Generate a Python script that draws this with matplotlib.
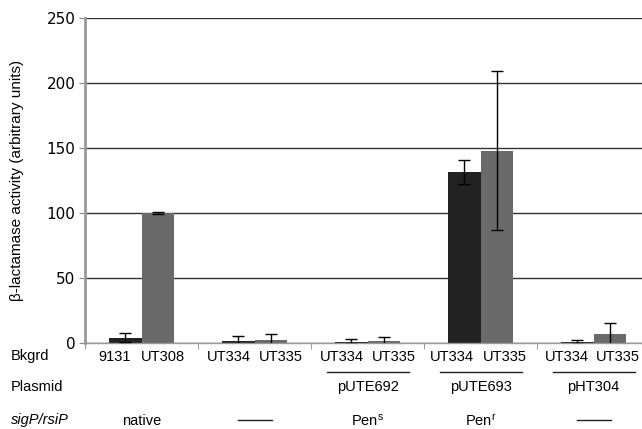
import matplotlib
matplotlib.use("Agg")
import matplotlib.pyplot as plt
import numpy as np

plt.rcParams["mathtext.fontset"] = "custom"
plt.rcParams["mathtext.rm"] = "Liberation Sans"
plt.rcParams["mathtext.it"] = "Liberation Sans:italic"

# Data
bkgrd_left = ["9131", "UT334", "UT334", "UT334", "UT334"]
bkgrd_right = ["UT308", "UT335", "UT335", "UT335", "UT335"]
dark_vals = [4.0, 1.5, 1.0, 131.5, 1.0]
dark_err = [3.5, 4.0, 2.0, 9.0, 1.5]
gray_vals = [100.0, 2.5, 1.5, 148.0, 7.0]
gray_err = [0.5, 4.5, 3.0, 61.0, 8.5]
plasmids = ["", "", "pUTE692", "pUTE693", "pHT304"]
sigp = ["native", "dash", "Pen$^{\\mathrm{s}}$", "Pen$^{\\mathrm{r}}$", "dash"]
yticks = [0, 50, 100, 150, 200, 250]

W, H = 642, 429
fig = plt.figure(figsize=(W / 100, H / 100), dpi=100)
ax_l, ax_r, ax_t, ax_b = 85, 650, 18, 343
ax = fig.add_axes([ax_l / W, 1 - ax_b / H, (ax_r - ax_l) / W, (ax_b - ax_t) / H])

ng = len(dark_vals)
bw = 0.292
centers = np.arange(ng) + 0.5
xd = centers - bw / 2
xg = centers + bw / 2

ax.set_axisbelow(True)
ax.yaxis.grid(True, color="#333333", lw=1.0)
ax.bar(xd, dark_vals, width=bw, color="#222222", zorder=2)
ax.bar(xg, gray_vals, width=bw, color="#6a6a6a", zorder=2)
ax.errorbar(xd, dark_vals, yerr=dark_err, fmt="none", ecolor="black", elinewidth=1, capsize=4, capthick=1, zorder=3)
ax.errorbar(xg, gray_vals, yerr=gray_err, fmt="none", ecolor="black", elinewidth=1, capsize=4, capthick=1, zorder=3)

ax.set_xlim(0, ng)
ax.set_ylim(0, 250)
ax.set_yticks(yticks)
ax.set_yticklabels([str(v) for v in yticks], fontsize=11, family="DejaVu Sans")
ax.tick_params(axis="y", length=4, color="#888888", pad=3)

# label positions (offset wider than bars, as in the reference)
lab_left = centers - np.array([0.235, 0.23, 0.23, 0.25, 0.24])
lab_right = centers + np.array([0.19, 0.23, 0.23, 0.22, 0.22])
xpos = np.concatenate([lab_left, lab_right])
xlabs = bkgrd_left + bkgrd_right
ax.set_xticks(xpos)
ax.set_xticklabels(xlabs, fontsize=10.5, family="Liberation Sans")
ax.tick_params(axis="x", length=0, pad=5)
ax.set_xticks(np.arange(ng + 1), minor=True)
ax.tick_params(axis="x", which="minor", length=4, color="#888888")

for s in ["top", "right"]:
    ax.spines[s].set_visible(False)
ax.spines["left"].set_color("#999999")
ax.spines["left"].set_linewidth(2.0)
ax.spines["bottom"].set_color("#999999")
ax.spines["bottom"].set_linewidth(1.0)

ax.set_ylabel("β-lactamase activity (arbitrary units)", fontsize=11, family="Liberation Sans", labelpad=16)

def fx(px):
    return px / W

def fy(py):
    return 1 - py / H

lab_kw = dict(fontsize=10.5, family="Liberation Sans", va="center")
fig.text(fx(11), fy(356), "Bkgrd", ha="left", **lab_kw)
fig.text(fx(11), fy(387), "Plasmid", ha="left", **lab_kw)
fig.text(fx(11), fy(420), "sigP/rsiP", ha="left", style="italic", **lab_kw)

gpx = (ax_r - ax_l) / ng
for i in range(ng):
    cx = ax_l + gpx * (i + 0.5)
    if plasmids[i]:
        fig.add_artist(plt.Line2D([fx(cx - 41), fx(cx + 41)], [fy(372), fy(372)], color="#222222", lw=1.0))
        fig.text(fx(cx), fy(387), plasmids[i], ha="center", **lab_kw)
    if sigp[i] == "dash":
        fig.add_artist(plt.Line2D([fx(cx - 17), fx(cx + 17)], [fy(420), fy(420)], color="#222222", lw=1.0))
    else:
        fig.text(fx(cx), fy(421), sigp[i], ha="center", **lab_kw)

fig.savefig("out.png", dpi=100)
